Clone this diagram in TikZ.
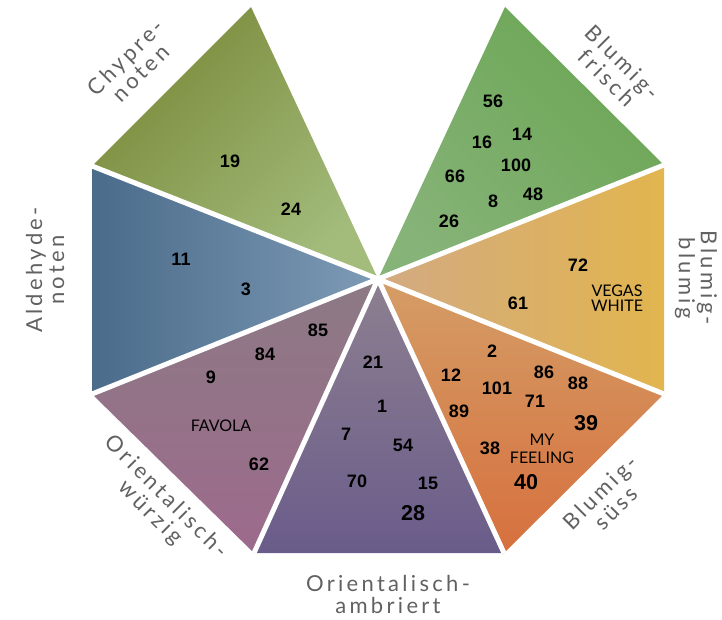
\documentclass[tikz,border=0pt]{standalone}
\usepackage{fontspec}
\setmainfont{Liberation Sans}
\newfontfamily\catfont[LetterSpace=15]{Lato}
\newfontfamily\namefont{Lato}
\usepackage{xcolor}
\definecolor{chypreA}{HTML}{7A8A3A}
\definecolor{chypreB}{HTML}{A3BC7C}
\definecolor{frischA}{HTML}{6CA655}
\definecolor{frischB}{HTML}{86B378}
\definecolor{aldA}{HTML}{4A6B8A}
\definecolor{aldB}{HTML}{7E9BB6}
\definecolor{blumA}{HTML}{D2AA82}
\definecolor{blumB}{HTML}{E2B54F}
\definecolor{wuerzA}{HTML}{8C7A84}
\definecolor{wuerzB}{HTML}{9D6A8C}
\definecolor{ambA}{HTML}{8D8090}
\definecolor{ambB}{HTML}{6A5C8A}
\definecolor{suessA}{HTML}{D59D66}
\definecolor{suessB}{HTML}{D6703E}
\definecolor{catgray}{HTML}{616161}

\begin{document}
\begin{tikzpicture}[
  x=1pt, y=-1pt,
  num/.style={font=\bfseries\fontsize{18}{18}\selectfont, inner sep=0pt},
  bignum/.style={num, font=\bfseries\fontsize{21.5}{21.5}\selectfont},
  perfume/.style={font=\namefont\fontsize{16}{14.5}\selectfont, align=center, inner sep=0pt},
  category/.style={font=\catfont\fontsize{22}{22}\selectfont, text=catgray, align=center, inner sep=0pt},
  gap/.style={white, line width=5pt}
]
\useasboundingbox (0,0) rectangle (722,620);
\coordinate (c) at (378,279);
\coordinate (v1) at (251,7);
\coordinate (v2) at (505,7);
\coordinate (v3) at (664,165);
\coordinate (v4) at (664,394);
\coordinate (v5) at (504,553);
\coordinate (v6) at (254,553);
\coordinate (v7) at (92,394);
\coordinate (v8) at (92,166);

\shade[top color=chypreA, bottom color=chypreB, shading angle=45] (c) -- (v8) -- (v1) -- cycle;
\shade[top color=frischA, bottom color=frischB, shading angle=-45] (c) -- (v2) -- (v3) -- cycle;
\shade[left color=aldA, right color=aldB] (c) -- (v7) -- (v8) -- cycle;
\shade[left color=blumA, right color=blumB] (c) -- (v3) -- (v4) -- cycle;
\shade[top color=wuerzA, bottom color=wuerzB] (c) -- (v6) -- (v7) -- cycle;
\shade[top color=ambA, bottom color=ambB] (c) -- (v5) -- (v6) -- cycle;
\shade[top color=suessA, bottom color=suessB] (c) -- (v4) -- (v5) -- cycle;
\draw[gap] (c) -- (v3) (c) -- (v4) (c) -- (v5) (c) -- (v6) (c) -- (v7) (c) -- (v8);

\node[category, rotate=45] (chypre) at (133,65) {Chypre-\\noten};
\node[category, rotate=-45] (frisch) at (615,70) {Blumig-\\frisch};
\node[category, rotate=90] (aldehyde) at (45,270) {Aldehyde-\\noten};
\node[category, rotate=-90] (blumig) at (696,278) {Blumig-\\blumig};
\node[category, rotate=-45] (wuerzig) at (158,505) {Orientalisch-\\würzig};
\node[category, rotate=45] (suess) at (608,500) {Blumig-\\süss};
\node[category] (ambriert) at (388,594) {Orientalisch-\\ambriert};

\node[num] (n19) at (230,161) {19};
\node[num] (n24) at (291,209) {24};
\node[num] (n11) at (181,259) {11};
\node[num] (n3) at (246,289) {3};

\node[num] (n56) at (493,101) {56};
\node[num] (n14) at (522,134) {14};
\node[num] (n16) at (482,142) {16};
\node[num] (n100) at (516,165) {100};
\node[num] (n66) at (455,176) {66};
\node[num] (n48) at (533,194) {48};
\node[num] (n8) at (493,201) {8};
\node[num] (n26) at (449,221) {26};

\node[num] (n72) at (578,265) {72};
\node[num] (n61) at (518,303) {61};
\node[perfume] (vegas) at (617,298) {VEGAS\\WHITE};

\node[num] (n85) at (318,330) {85};
\node[num] (n84) at (265,354) {84};
\node[num] (n9) at (211,377) {9};
\node[perfume] (favola) at (221,426) {FAVOLA};
\node[num] (n62) at (259,464) {62};

\node[num] (n21) at (373,362) {21};
\node[num] (n1) at (382,406) {1};
\node[num] (n7) at (346,434) {7};
\node[num] (n54) at (403,445) {54};
\node[num] (n70) at (357,481) {70};
\node[num] (n15) at (428,483) {15};
\node[bignum] (n28) at (413,513) {28};

\node[num] (n2) at (492,351) {2};
\node[num] (n12) at (451,375) {12};
\node[num] (n86) at (544,372) {86};
\node[num] (n88) at (578,383) {88};
\node[num] (n101) at (497,388) {101};
\node[num] (n71) at (535,401) {71};
\node[num] (n89) at (459,411) {89};
\node[bignum] (n39) at (586,423) {39};
\node[num] (n38) at (490,448) {38};
\node[perfume] (feeling) at (542,449) {MY\\[3.5pt]FEELING};
\node[bignum] (n40) at (526,482) {40};
\end{tikzpicture}
\end{document}
